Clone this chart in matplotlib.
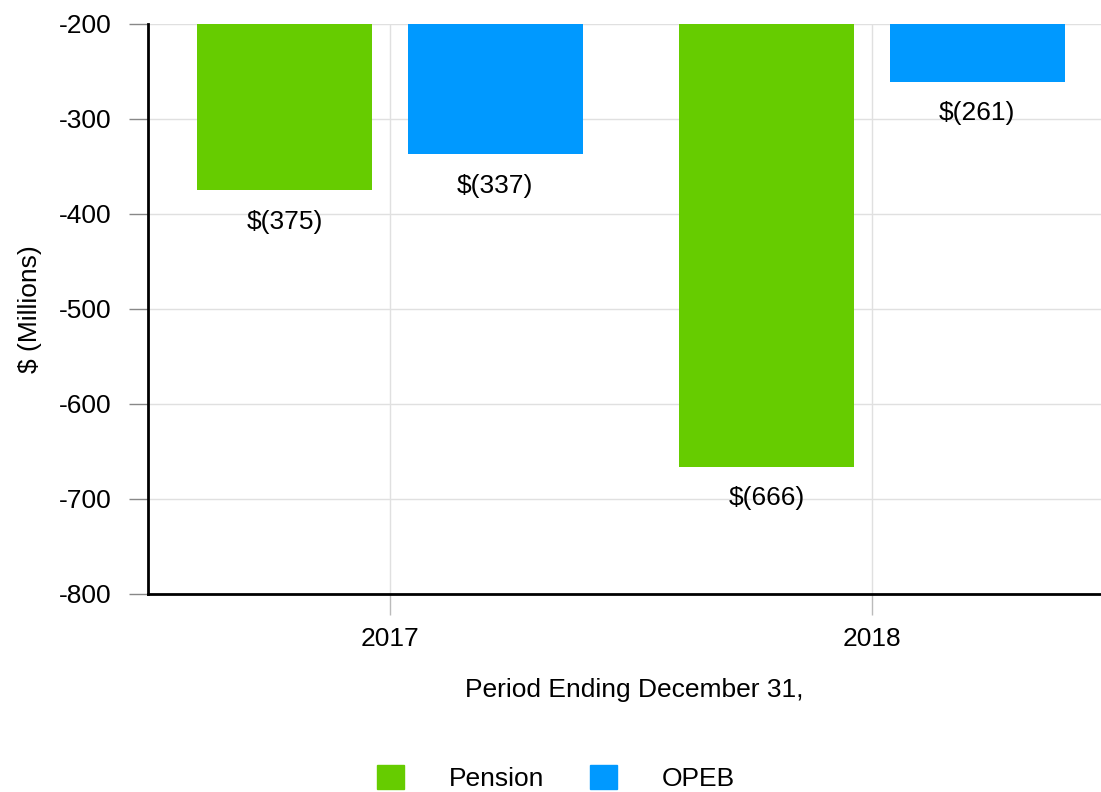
import numpy as np
import matplotlib
matplotlib.use('Agg')
import matplotlib.pyplot as plt
from matplotlib.patches import Patch

years = ['2017', '2018']
pension = [-375, -666]
opeb = [-337, -261]
labels_pension = ['$(375)', '$(666)']
labels_opeb = ['$(337)', '$(261)']

base = -200
green = '#66CC00'
blue = '#0099FF'

plt.rcParams['font.family'] = ['Liberation Sans', 'DejaVu Sans']
plt.rcParams['axes.unicode_minus'] = False
fs = 19

fig = plt.figure(figsize=(11.01, 7.92), dpi=100)
ax = fig.add_axes([148/1101, 1 - 594/792, (1101-148)/1101, (594-24)/792])

x = np.arange(len(years))
w = 0.363
off = 0.218

ax.bar(x - off, np.array(pension) - base, bottom=base, width=w, color=green, zorder=3)
ax.bar(x + off, np.array(opeb) - base, bottom=base, width=w, color=blue, zorder=3)

for xi, v, s in zip(x - off, pension, labels_pension):
    ax.annotate(s, (xi, v), xytext=(0, -14), textcoords='offset points',
                ha='center', va='top', fontsize=fs)
for xi, v, s in zip(x + off, opeb, labels_opeb):
    ax.annotate(s, (xi, v), xytext=(0, -14), textcoords='offset points',
                ha='center', va='top', fontsize=fs)

ax.set_ylim(-800, -200)
ax.set_xlim(-0.502, 1.475)
ax.set_yticks(np.arange(-800, -199, 100))
ax.set_xticks(x)
ax.set_xticklabels(years)
ax.grid(True, color='#e0e0e0', lw=1, zorder=0)

for s in ['top', 'right']:
    ax.spines[s].set_visible(False)
for s in ['left', 'bottom']:
    ax.spines[s].set_linewidth(2)
    ax.spines[s].set_color('black')
    ax.spines[s].set_zorder(4)

ax.tick_params(axis='y', length=14, width=1, color='#888888', labelsize=fs, pad=12)
ax.tick_params(axis='x', length=15, width=1, color='#bbbbbb', labelsize=fs, pad=9)

ax.set_ylabel('$ (Millions)', fontsize=fs, labelpad=12)
ax.set_xlabel('Period Ending December 31,', fontsize=fs, labelpad=16)
ax.xaxis.set_label_coords((634 - 148) / 953, -(690 - 594) / 570)
ax.xaxis.label.set_va('center')

handles = [Patch(color=green, label='Pension'), Patch(color=blue, label='OPEB')]
fig.legend(handles=handles, loc='center', bbox_to_anchor=(556/1101, 1 - 778/792),
           bbox_transform=fig.transFigure, ncol=2, frameon=False, fontsize=fs,
           handlelength=1.0, handleheight=1.0, handletextpad=1.7, columnspacing=1.75)

fig.savefig('out.png', dpi=100)
